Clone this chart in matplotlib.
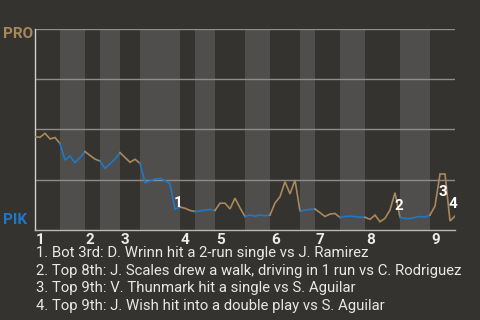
import matplotlib
matplotlib.use("Agg")
import matplotlib.pyplot as plt

# win probability for PRO after each plate appearance (0 = PIK, 1 = PRO)
wp = [0.463, 0.460, 0.480, 0.452, 0.459, 0.429, 0.347, 0.367, 0.334, 0.360,
      0.389, 0.370, 0.352, 0.342, 0.306, 0.328, 0.352, 0.384, 0.360, 0.336,
      0.351, 0.331, 0.235, 0.243, 0.253, 0.256, 0.246, 0.228, 0.103, 0.114,
      0.108, 0.097, 0.092, 0.094, 0.099, 0.102, 0.097, 0.133, 0.133, 0.105,
      0.158, 0.110, 0.067, 0.074, 0.069, 0.074, 0.071, 0.074, 0.134, 0.165,
      0.240, 0.179, 0.248, 0.094, 0.099, 0.102, 0.104, 0.086, 0.067, 0.079,
      0.082, 0.062, 0.067, 0.069, 0.066, 0.064, 0.063, 0.053, 0.074, 0.041,
      0.058, 0.099, 0.185, 0.063, 0.057, 0.057, 0.062, 0.067, 0.064, 0.074,
      0.119, 0.278, 0.278, 0.045, 0.069]

# play index where each half inning ends (top 1st, bot 1st, ...)
half_ends = [0, 5, 10, 13, 17, 21, 29, 32, 36, 42, 47, 53, 56, 61, 66, 73, 79, 84]
inning_labels = ["1", "2", "3", "4", "5", "6", "7", "8", "9"]

event_plays = [28, 72, 81, 83]
event_text = [
    "1. Bot 3rd: D. Wrinn hit a 2-run single vs J. Ramirez",
    "2. Top 8th: J. Scales drew a walk, driving in 1 run vs C. Rodriguez",
    "3. Top 9th: V. Thunmark hit a single vs S. Aguilar",
    "4. Top 9th: J. Wish hit into a double play vs S. Aguilar",
]
away_team = "PRO"
home_team = "PIK"

BG = "#353330"
BAND = "#4f4e4c"
TAN = "#a8895c"
BLUE = "#1e78c8"

plt.rcParams['font.family'] = ['Roboto', 'DejaVu Sans']

fig = plt.figure(figsize=(4.8, 3.2), dpi=100, facecolor=BG)
ax = fig.add_axes([35 / 480, 1 - 230 / 320, 420 / 480, 201.5 / 320])
ax.set_facecolor(BG)

n_last = len(wp) - 1
ax.set_xlim(0, n_last)
ax.set_ylim(0, 1)

# shade bottom halves, draw line coloured by who is batting
for h in range(len(half_ends) - 1):
    a, b = half_ends[h], half_ends[h + 1]
    bottom = h % 2 == 1
    if bottom:
        ax.axvspan(a, b, color=BAND, lw=0, zorder=0)
    xs = list(range(a, b + 1))
    ax.plot(xs, wp[a:b + 1], color=BLUE if bottom else TAN, lw=1.2,
            solid_joinstyle='miter', zorder=3)

for yv in [0.25, 0.5, 0.75, 1.0]:
    ax.axhline(yv, color="#8e8d8b", lw=1.0, zorder=1)

for s in ['top', 'right']:
    ax.spines[s].set_visible(False)
ax.spines['left'].set_color("#cfcfcf")
ax.spines['bottom'].set_color("#b8b8b8")
ax.spines['left'].set_linewidth(1.0)
ax.spines['bottom'].set_linewidth(1.0)
ax.set_xticks([])
ax.set_yticks([])

# inning numbers under the axis
for k, lab in enumerate(inning_labels):
    ax.annotate(lab, xy=(half_ends[2 * k], 0), xycoords='data',
                xytext=(1, -3), textcoords='offset pixels',
                ha='left', va='top', color="#ececec", fontsize=11,
                fontweight='bold')

# event markers
offsets = [(3, 6), (4, -13), (3, -18), (3, 17)]
for k, p in enumerate(event_plays):
    ax.annotate(str(k + 1), xy=(p, wp[p]), xytext=offsets[k],
                textcoords='offset pixels', ha='center', va='center',
                color="white", fontsize=11, fontweight='bold', zorder=5)

fig.text(3 / 480, 1 - 34 / 320, away_team, color=TAN, fontsize=11,
         fontweight='bold', ha='left', va='center')
fig.text(3 / 480, 1 - 219.5 / 320, home_team, color=BLUE, fontsize=11,
         fontweight='bold', ha='left', va='center')

for k, t in enumerate(event_text):
    fig.text(36 / 480, 1 - (253 + 17.7 * k) / 320, t, color="#e8e8e8",
             fontsize=10.75, ha='left', va='center')

fig.savefig("out.png", dpi=100, facecolor=BG)
